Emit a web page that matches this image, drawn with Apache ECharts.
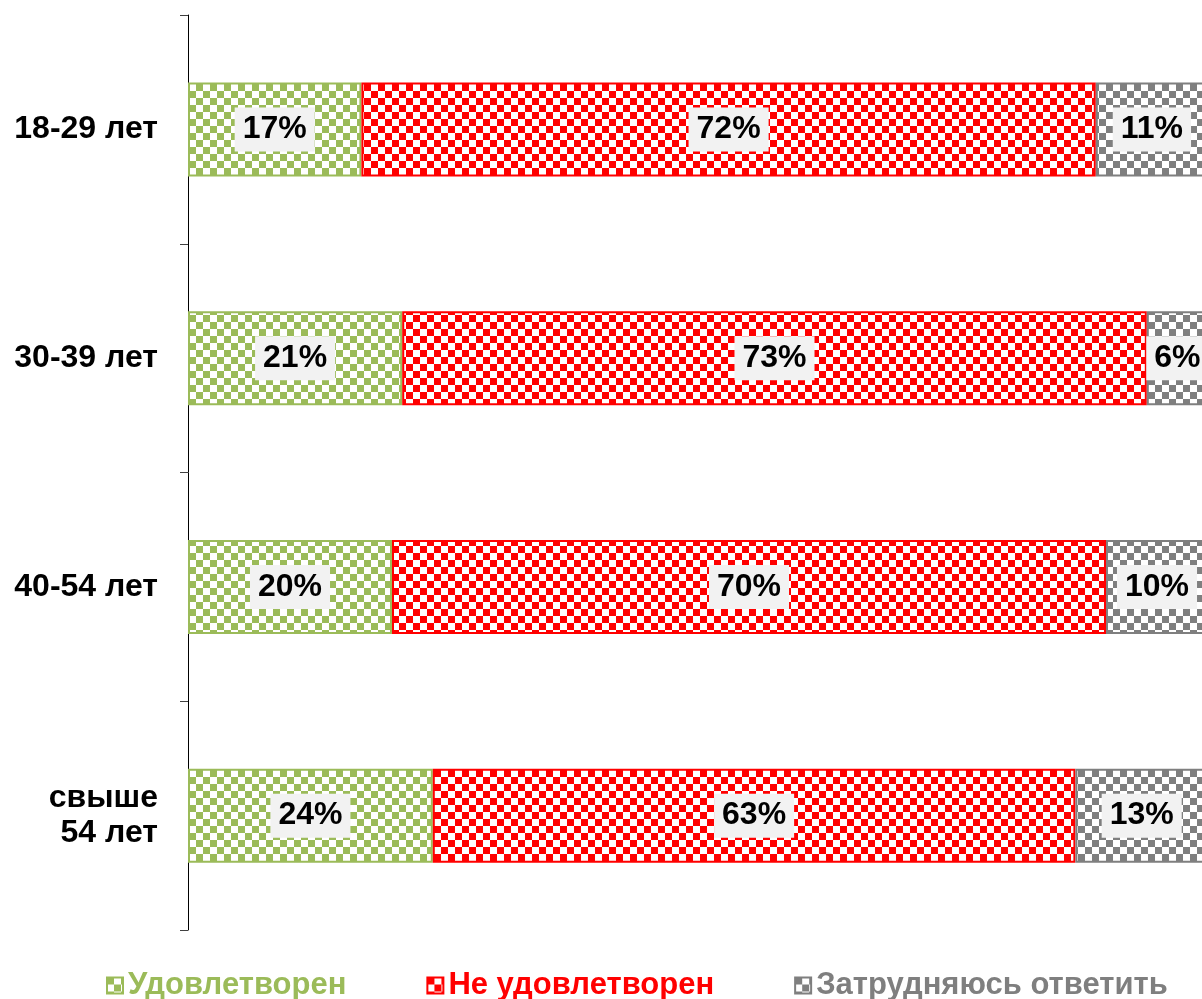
<!DOCTYPE html>
<html>
<head>
<meta charset="utf-8">
<script src="https://cdn.jsdelivr.net/npm/echarts@6/dist/echarts.min.js"></script>
<style>
  html, body { margin: 0; padding: 0; background: #ffffff; }
  #chart { width: 1202px; height: 999px; }
</style>
</head>
<body>
<div id="chart"></div>
<script>
const categories = ['18-29 лет', '30-39 лет', '40-54 лет', 'свыше\n54 лет'];
const seriesNames = ['Удовлетворен', 'Не удовлетворен', 'Затрудняюсь ответить'];
const satisfied = [17, 21, 20, 24];
const notSatisfied = [72, 73, 70, 63];
const hardToSay = [11, 6, 10, 13];

const fontFamily = 'Arial, "Liberation Sans", sans-serif';
const seriesColors = ['#9bbb59', '#ff0000', '#7f7f7f'];

// checkerboard fill like the office pattern
function checker(color) {
    const size = 7;
    const canvas = document.createElement('canvas');
    canvas.width = size * 2;
    canvas.height = size * 2;
    const ctx = canvas.getContext('2d');
    ctx.fillStyle = '#ffffff';
    ctx.fillRect(0, 0, size * 2, size * 2);
    ctx.fillStyle = color;
    ctx.fillRect(0, 0, size, size);
    ctx.fillRect(size, size, size, size);
    return { image: canvas, repeat: 'repeat' };
}

function barSeries(name, values, color) {
    return {
        name: name,
        type: 'bar',
        stack: 'total',
        barWidth: 94,
        data: values,
        itemStyle: {
            color: checker(color),
            borderColor: color,
            borderWidth: 2
        },
        label: {
            show: true,
            position: 'inside',
            formatter: '{c}%',
            color: '#000000',
            fontFamily: fontFamily,
            fontWeight: 'bold',
            fontSize: 32,
            lineHeight: 34,
            backgroundColor: '#f2f2f2',
            padding: [5, 8]
        }
    };
}

const chart = echarts.init(document.getElementById('chart'));
chart.setOption({
    animation: false,
    textStyle: { fontFamily: fontFamily },
    grid: { left: 188, top: 15, width: 1020, height: 915, outerBoundsMode: 'none', containLabel: false },
    legend: {
        left: 101,
        top: 965,
        icon: 'rect',
        itemWidth: 16,
        itemHeight: 16,
        itemGap: 80,
        textStyle: { fontFamily: fontFamily, fontWeight: 'bold', fontSize: 31 },
        data: seriesNames.map(function (n, i) {
            return { name: n, textStyle: { color: seriesColors[i] } };
        })
    },
    xAxis: {
        type: 'value',
        min: 0,
        max: 100,
        show: false
    },
    yAxis: {
        type: 'category',
        inverse: true,
        data: categories,
        axisLine: { show: true, lineStyle: { color: '#000000', width: 1 } },
        axisTick: { show: true, inside: false, length: 8, lineStyle: { color: '#404040' } },
        axisLabel: {
            margin: 30,
            color: '#000000',
            fontFamily: fontFamily,
            fontWeight: 'bold',
            fontSize: 32,
            lineHeight: 35
        }
    },
    series: [
        barSeries(seriesNames[0], satisfied, seriesColors[0]),
        barSeries(seriesNames[1], notSatisfied, seriesColors[1]),
        barSeries(seriesNames[2], hardToSay, seriesColors[2])
    ]
});
</script>
</body>
</html>
